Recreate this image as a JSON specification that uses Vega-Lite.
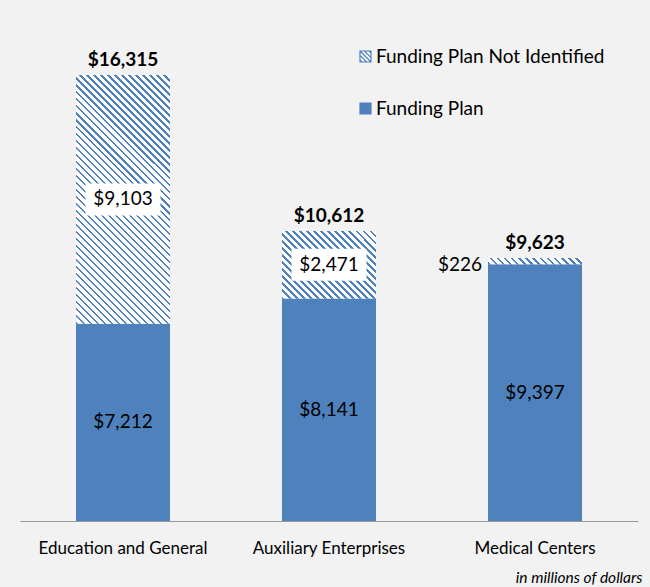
{
  "$schema": "https://vega.github.io/schema/vega-lite/v6.json",
  "width": 618,
  "height": 492,
  "autosize": {"type": "none"},
  "padding": {"left": 20, "top": 29, "right": 12, "bottom": 66},
  "background": "#f2f2f2",
  "config": {"view": {"stroke": null}, "font": "Lato"},
  "data": {
    "values": [
      {"category": "Education and General", "series": "Funding Plan", "value": 7212},
      {"category": "Education and General", "series": "Funding Plan Not Identified", "value": 9103},
      {"category": "Auxiliary Enterprises", "series": "Funding Plan", "value": 8141},
      {"category": "Auxiliary Enterprises", "series": "Funding Plan Not Identified", "value": 2471},
      {"category": "Medical Centers", "series": "Funding Plan", "value": 9397},
      {"category": "Medical Centers", "series": "Funding Plan Not Identified", "value": 226}
    ]
  },
  "encoding": {
    "x": {
      "field": "category",
      "type": "nominal",
      "sort": null,
      "scale": {"paddingInner": 0.5437, "paddingOuter": 0.2718},
      "axis": {
        "title": "in millions of dollars",
        "labelAngle": 0,
        "labelFont": "Lato",
        "labelFontSize": 17,
        "labelColor": "#000000",
        "labelPadding": 19,
        "ticks": false,
        "domainColor": "#999999",
        "domainWidth": 1,
        "titleFont": "Lato",
        "titleFontSize": 15.5,
        "titleFontStyle": "italic",
        "titleFontWeight": "normal",
        "titleColor": "#000000",
        "titleAnchor": "end",
        "titleAlign": "right",
        "titleBaseline": "alphabetic",
        "titleX": 622,
        "titleY": 61
      }
    }
  },
  "layer": [
    {
      "mark": {"type": "bar", "strokeWidth": 0},
      "encoding": {
        "y": {"field": "value", "type": "quantitative", "stack": "zero", "scale": {"domain": [0, 18000]}, "axis": null},
        "order": {"field": "series", "sort": "ascending"},
        "fill": {
          "field": "series",
          "type": "nominal",
          "scale": {"domain": ["Funding Plan Not Identified", "Funding Plan"], "range": ["#ffffff", "#4f81bd"]},
          "legend": {
            "title": null,
            "orient": "none",
            "legendX": 336,
            "legendY": 18,
            "padding": 0,
            "offset": 0,
            "symbolType": "square",
            "symbolSize": 121,
            "symbolOpacity": 1,
            "labelFont": "Lato",
            "labelFontSize": 19,
            "labelColor": "#000000",
            "labelOffset": 1,
            "labelLimit": 400,
            "rowPadding": 32,
            "encode": {
              "symbols": {
                "update": {
                  "stroke": {"value": "#4f81bd"},
                  "strokeWidth": {"value": 1.2},
                  "shape": {"value": "M-1,-1H1V1H-1ZM-1,-1L1,1M-1,-0.2L0.2,1M-1,0.6L-0.6,1M-0.2,-1L1,0.2M0.6,-1L1,-0.6"}
                }
              }
            }
          },
          "condition": [
            {
              "test": "datum.series === 'Funding Plan Not Identified' && datum.category === 'Education and General'",
              "value": {"gradient": "linear", "x1": 0, "y1": 1, "x2": 0.4555, "y2": -0.2057, "stops": [
                {"offset": 0, "color": "#4f81bd"}, {"offset": 0.0071, "color": "#4f81bd"}, {"offset": 0.0071, "color": "#ffffff"}, {"offset": 0.0204, "color": "#ffffff"},
                {"offset": 0.0204, "color": "#4f81bd"}, {"offset": 0.0276, "color": "#4f81bd"}, {"offset": 0.0276, "color": "#ffffff"}, {"offset": 0.0408, "color": "#ffffff"},
                {"offset": 0.0408, "color": "#4f81bd"}, {"offset": 0.048, "color": "#4f81bd"}, {"offset": 0.048, "color": "#ffffff"}, {"offset": 0.0612, "color": "#ffffff"},
                {"offset": 0.0612, "color": "#4f81bd"}, {"offset": 0.0684, "color": "#4f81bd"}, {"offset": 0.0684, "color": "#ffffff"}, {"offset": 0.0816, "color": "#ffffff"},
                {"offset": 0.0816, "color": "#4f81bd"}, {"offset": 0.0888, "color": "#4f81bd"}, {"offset": 0.0888, "color": "#ffffff"}, {"offset": 0.102, "color": "#ffffff"},
                {"offset": 0.102, "color": "#4f81bd"}, {"offset": 0.1092, "color": "#4f81bd"}, {"offset": 0.1092, "color": "#ffffff"}, {"offset": 0.1224, "color": "#ffffff"},
                {"offset": 0.1224, "color": "#4f81bd"}, {"offset": 0.1296, "color": "#4f81bd"}, {"offset": 0.1296, "color": "#ffffff"}, {"offset": 0.1429, "color": "#ffffff"},
                {"offset": 0.1429, "color": "#4f81bd"}, {"offset": 0.15, "color": "#4f81bd"}, {"offset": 0.15, "color": "#ffffff"}, {"offset": 0.1633, "color": "#ffffff"},
                {"offset": 0.1633, "color": "#4f81bd"}, {"offset": 0.1704, "color": "#4f81bd"}, {"offset": 0.1704, "color": "#ffffff"}, {"offset": 0.1837, "color": "#ffffff"},
                {"offset": 0.1837, "color": "#4f81bd"}, {"offset": 0.1908, "color": "#4f81bd"}, {"offset": 0.1908, "color": "#ffffff"}, {"offset": 0.2041, "color": "#ffffff"},
                {"offset": 0.2041, "color": "#4f81bd"}, {"offset": 0.2112, "color": "#4f81bd"}, {"offset": 0.2112, "color": "#ffffff"}, {"offset": 0.2245, "color": "#ffffff"},
                {"offset": 0.2245, "color": "#4f81bd"}, {"offset": 0.2316, "color": "#4f81bd"}, {"offset": 0.2316, "color": "#ffffff"}, {"offset": 0.2449, "color": "#ffffff"},
                {"offset": 0.2449, "color": "#4f81bd"}, {"offset": 0.252, "color": "#4f81bd"}, {"offset": 0.252, "color": "#ffffff"}, {"offset": 0.2653, "color": "#ffffff"},
                {"offset": 0.2653, "color": "#4f81bd"}, {"offset": 0.2724, "color": "#4f81bd"}, {"offset": 0.2724, "color": "#ffffff"}, {"offset": 0.2857, "color": "#ffffff"},
                {"offset": 0.2857, "color": "#4f81bd"}, {"offset": 0.2929, "color": "#4f81bd"}, {"offset": 0.2929, "color": "#ffffff"}, {"offset": 0.3061, "color": "#ffffff"},
                {"offset": 0.3061, "color": "#4f81bd"}, {"offset": 0.3133, "color": "#4f81bd"}, {"offset": 0.3133, "color": "#ffffff"}, {"offset": 0.3265, "color": "#ffffff"},
                {"offset": 0.3265, "color": "#4f81bd"}, {"offset": 0.3337, "color": "#4f81bd"}, {"offset": 0.3337, "color": "#ffffff"}, {"offset": 0.3469, "color": "#ffffff"},
                {"offset": 0.3469, "color": "#4f81bd"}, {"offset": 0.3541, "color": "#4f81bd"}, {"offset": 0.3541, "color": "#ffffff"}, {"offset": 0.3673, "color": "#ffffff"},
                {"offset": 0.3673, "color": "#4f81bd"}, {"offset": 0.3745, "color": "#4f81bd"}, {"offset": 0.3745, "color": "#ffffff"}, {"offset": 0.3878, "color": "#ffffff"},
                {"offset": 0.3878, "color": "#4f81bd"}, {"offset": 0.3949, "color": "#4f81bd"}, {"offset": 0.3949, "color": "#ffffff"}, {"offset": 0.4082, "color": "#ffffff"},
                {"offset": 0.4082, "color": "#4f81bd"}, {"offset": 0.4153, "color": "#4f81bd"}, {"offset": 0.4153, "color": "#ffffff"}, {"offset": 0.4286, "color": "#ffffff"},
                {"offset": 0.4286, "color": "#4f81bd"}, {"offset": 0.4357, "color": "#4f81bd"}, {"offset": 0.4357, "color": "#ffffff"}, {"offset": 0.449, "color": "#ffffff"},
                {"offset": 0.449, "color": "#4f81bd"}, {"offset": 0.4561, "color": "#4f81bd"}, {"offset": 0.4561, "color": "#ffffff"}, {"offset": 0.4694, "color": "#ffffff"},
                {"offset": 0.4694, "color": "#4f81bd"}, {"offset": 0.4765, "color": "#4f81bd"}, {"offset": 0.4765, "color": "#ffffff"}, {"offset": 0.4898, "color": "#ffffff"},
                {"offset": 0.4898, "color": "#4f81bd"}, {"offset": 0.4969, "color": "#4f81bd"}, {"offset": 0.4969, "color": "#ffffff"}, {"offset": 0.5102, "color": "#ffffff"},
                {"offset": 0.5102, "color": "#4f81bd"}, {"offset": 0.5173, "color": "#4f81bd"}, {"offset": 0.5173, "color": "#ffffff"}, {"offset": 0.5306, "color": "#ffffff"},
                {"offset": 0.5306, "color": "#4f81bd"}, {"offset": 0.5378, "color": "#4f81bd"}, {"offset": 0.5378, "color": "#ffffff"}, {"offset": 0.551, "color": "#ffffff"},
                {"offset": 0.551, "color": "#4f81bd"}, {"offset": 0.5582, "color": "#4f81bd"}, {"offset": 0.5582, "color": "#ffffff"}, {"offset": 0.5714, "color": "#ffffff"},
                {"offset": 0.5714, "color": "#4f81bd"}, {"offset": 0.5786, "color": "#4f81bd"}, {"offset": 0.5786, "color": "#ffffff"}, {"offset": 0.5918, "color": "#ffffff"},
                {"offset": 0.5918, "color": "#4f81bd"}, {"offset": 0.599, "color": "#4f81bd"}, {"offset": 0.599, "color": "#ffffff"}, {"offset": 0.6122, "color": "#ffffff"},
                {"offset": 0.6122, "color": "#4f81bd"}, {"offset": 0.6194, "color": "#4f81bd"}, {"offset": 0.6194, "color": "#ffffff"}, {"offset": 0.6327, "color": "#ffffff"},
                {"offset": 0.6327, "color": "#4f81bd"}, {"offset": 0.6398, "color": "#4f81bd"}, {"offset": 0.6398, "color": "#ffffff"}, {"offset": 0.6531, "color": "#ffffff"},
                {"offset": 0.6531, "color": "#4f81bd"}, {"offset": 0.6602, "color": "#4f81bd"}, {"offset": 0.6602, "color": "#ffffff"}, {"offset": 0.6735, "color": "#ffffff"},
                {"offset": 0.6735, "color": "#4f81bd"}, {"offset": 0.6806, "color": "#4f81bd"}, {"offset": 0.6806, "color": "#ffffff"}, {"offset": 0.6939, "color": "#ffffff"},
                {"offset": 0.6939, "color": "#4f81bd"}, {"offset": 0.701, "color": "#4f81bd"}, {"offset": 0.701, "color": "#ffffff"}, {"offset": 0.7143, "color": "#ffffff"},
                {"offset": 0.7143, "color": "#4f81bd"}, {"offset": 0.7214, "color": "#4f81bd"}, {"offset": 0.7214, "color": "#ffffff"}, {"offset": 0.7347, "color": "#ffffff"},
                {"offset": 0.7347, "color": "#4f81bd"}, {"offset": 0.7418, "color": "#4f81bd"}, {"offset": 0.7418, "color": "#ffffff"}, {"offset": 0.7551, "color": "#ffffff"},
                {"offset": 0.7551, "color": "#4f81bd"}, {"offset": 0.7622, "color": "#4f81bd"}, {"offset": 0.7622, "color": "#ffffff"}, {"offset": 0.7755, "color": "#ffffff"},
                {"offset": 0.7755, "color": "#4f81bd"}, {"offset": 0.7827, "color": "#4f81bd"}, {"offset": 0.7827, "color": "#ffffff"}, {"offset": 0.7959, "color": "#ffffff"},
                {"offset": 0.7959, "color": "#4f81bd"}, {"offset": 0.8031, "color": "#4f81bd"}, {"offset": 0.8031, "color": "#ffffff"}, {"offset": 0.8163, "color": "#ffffff"},
                {"offset": 0.8163, "color": "#4f81bd"}, {"offset": 0.8235, "color": "#4f81bd"}, {"offset": 0.8235, "color": "#ffffff"}, {"offset": 0.8367, "color": "#ffffff"},
                {"offset": 0.8367, "color": "#4f81bd"}, {"offset": 0.8439, "color": "#4f81bd"}, {"offset": 0.8439, "color": "#ffffff"}, {"offset": 0.8571, "color": "#ffffff"},
                {"offset": 0.8571, "color": "#4f81bd"}, {"offset": 0.8643, "color": "#4f81bd"}, {"offset": 0.8643, "color": "#ffffff"}, {"offset": 0.8776, "color": "#ffffff"},
                {"offset": 0.8776, "color": "#4f81bd"}, {"offset": 0.8847, "color": "#4f81bd"}, {"offset": 0.8847, "color": "#ffffff"}, {"offset": 0.898, "color": "#ffffff"},
                {"offset": 0.898, "color": "#4f81bd"}, {"offset": 0.9051, "color": "#4f81bd"}, {"offset": 0.9051, "color": "#ffffff"}, {"offset": 0.9184, "color": "#ffffff"},
                {"offset": 0.9184, "color": "#4f81bd"}, {"offset": 0.9255, "color": "#4f81bd"}, {"offset": 0.9255, "color": "#ffffff"}, {"offset": 0.9388, "color": "#ffffff"},
                {"offset": 0.9388, "color": "#4f81bd"}, {"offset": 0.9459, "color": "#4f81bd"}, {"offset": 0.9459, "color": "#ffffff"}, {"offset": 0.9592, "color": "#ffffff"},
                {"offset": 0.9592, "color": "#4f81bd"}, {"offset": 0.9663, "color": "#4f81bd"}, {"offset": 0.9663, "color": "#ffffff"}, {"offset": 0.9796, "color": "#ffffff"},
                {"offset": 0.9796, "color": "#4f81bd"}, {"offset": 0.9867, "color": "#4f81bd"}, {"offset": 0.9867, "color": "#ffffff"}, {"offset": 1, "color": "#ffffff"}
              ]}
            },
            {
              "test": "datum.series === 'Funding Plan Not Identified' && datum.category === 'Auxiliary Enterprises'",
              "value": {"gradient": "linear", "x1": 0, "y1": 1, "x2": 1.1336, "y2": 0.186, "stops": [
                {"offset": 0, "color": "#4f81bd"}, {"offset": 0.0152, "color": "#4f81bd"}, {"offset": 0.0152, "color": "#ffffff"}, {"offset": 0.0435, "color": "#ffffff"},
                {"offset": 0.0435, "color": "#4f81bd"}, {"offset": 0.0587, "color": "#4f81bd"}, {"offset": 0.0587, "color": "#ffffff"}, {"offset": 0.087, "color": "#ffffff"},
                {"offset": 0.087, "color": "#4f81bd"}, {"offset": 0.1022, "color": "#4f81bd"}, {"offset": 0.1022, "color": "#ffffff"}, {"offset": 0.1304, "color": "#ffffff"},
                {"offset": 0.1304, "color": "#4f81bd"}, {"offset": 0.1456, "color": "#4f81bd"}, {"offset": 0.1456, "color": "#ffffff"}, {"offset": 0.1739, "color": "#ffffff"},
                {"offset": 0.1739, "color": "#4f81bd"}, {"offset": 0.1891, "color": "#4f81bd"}, {"offset": 0.1891, "color": "#ffffff"}, {"offset": 0.2174, "color": "#ffffff"},
                {"offset": 0.2174, "color": "#4f81bd"}, {"offset": 0.2326, "color": "#4f81bd"}, {"offset": 0.2326, "color": "#ffffff"}, {"offset": 0.2609, "color": "#ffffff"},
                {"offset": 0.2609, "color": "#4f81bd"}, {"offset": 0.2761, "color": "#4f81bd"}, {"offset": 0.2761, "color": "#ffffff"}, {"offset": 0.3043, "color": "#ffffff"},
                {"offset": 0.3043, "color": "#4f81bd"}, {"offset": 0.3195, "color": "#4f81bd"}, {"offset": 0.3195, "color": "#ffffff"}, {"offset": 0.3478, "color": "#ffffff"},
                {"offset": 0.3478, "color": "#4f81bd"}, {"offset": 0.363, "color": "#4f81bd"}, {"offset": 0.363, "color": "#ffffff"}, {"offset": 0.3913, "color": "#ffffff"},
                {"offset": 0.3913, "color": "#4f81bd"}, {"offset": 0.4065, "color": "#4f81bd"}, {"offset": 0.4065, "color": "#ffffff"}, {"offset": 0.4348, "color": "#ffffff"},
                {"offset": 0.4348, "color": "#4f81bd"}, {"offset": 0.45, "color": "#4f81bd"}, {"offset": 0.45, "color": "#ffffff"}, {"offset": 0.4783, "color": "#ffffff"},
                {"offset": 0.4783, "color": "#4f81bd"}, {"offset": 0.4935, "color": "#4f81bd"}, {"offset": 0.4935, "color": "#ffffff"}, {"offset": 0.5217, "color": "#ffffff"},
                {"offset": 0.5217, "color": "#4f81bd"}, {"offset": 0.5369, "color": "#4f81bd"}, {"offset": 0.5369, "color": "#ffffff"}, {"offset": 0.5652, "color": "#ffffff"},
                {"offset": 0.5652, "color": "#4f81bd"}, {"offset": 0.5804, "color": "#4f81bd"}, {"offset": 0.5804, "color": "#ffffff"}, {"offset": 0.6087, "color": "#ffffff"},
                {"offset": 0.6087, "color": "#4f81bd"}, {"offset": 0.6239, "color": "#4f81bd"}, {"offset": 0.6239, "color": "#ffffff"}, {"offset": 0.6522, "color": "#ffffff"},
                {"offset": 0.6522, "color": "#4f81bd"}, {"offset": 0.6674, "color": "#4f81bd"}, {"offset": 0.6674, "color": "#ffffff"}, {"offset": 0.6957, "color": "#ffffff"},
                {"offset": 0.6957, "color": "#4f81bd"}, {"offset": 0.7109, "color": "#4f81bd"}, {"offset": 0.7109, "color": "#ffffff"}, {"offset": 0.7391, "color": "#ffffff"},
                {"offset": 0.7391, "color": "#4f81bd"}, {"offset": 0.7543, "color": "#4f81bd"}, {"offset": 0.7543, "color": "#ffffff"}, {"offset": 0.7826, "color": "#ffffff"},
                {"offset": 0.7826, "color": "#4f81bd"}, {"offset": 0.7978, "color": "#4f81bd"}, {"offset": 0.7978, "color": "#ffffff"}, {"offset": 0.8261, "color": "#ffffff"},
                {"offset": 0.8261, "color": "#4f81bd"}, {"offset": 0.8413, "color": "#4f81bd"}, {"offset": 0.8413, "color": "#ffffff"}, {"offset": 0.8696, "color": "#ffffff"},
                {"offset": 0.8696, "color": "#4f81bd"}, {"offset": 0.8848, "color": "#4f81bd"}, {"offset": 0.8848, "color": "#ffffff"}, {"offset": 0.913, "color": "#ffffff"},
                {"offset": 0.913, "color": "#4f81bd"}, {"offset": 0.9282, "color": "#4f81bd"}, {"offset": 0.9282, "color": "#ffffff"}, {"offset": 0.9565, "color": "#ffffff"},
                {"offset": 0.9565, "color": "#4f81bd"}, {"offset": 0.9717, "color": "#4f81bd"}, {"offset": 0.9717, "color": "#ffffff"}, {"offset": 1, "color": "#ffffff"}
              ]}
            },
            {
              "test": "datum.series === 'Funding Plan Not Identified' && datum.category === 'Medical Centers'",
              "value": {"gradient": "linear", "x1": 0, "y1": 1, "x2": 1.0612, "y2": 0.9302, "stops": [
                {"offset": 0, "color": "#4f81bd"}, {"offset": 0.025, "color": "#4f81bd"}, {"offset": 0.025, "color": "#ffffff"}, {"offset": 0.0714, "color": "#ffffff"},
                {"offset": 0.0714, "color": "#4f81bd"}, {"offset": 0.0964, "color": "#4f81bd"}, {"offset": 0.0964, "color": "#ffffff"}, {"offset": 0.1429, "color": "#ffffff"},
                {"offset": 0.1429, "color": "#4f81bd"}, {"offset": 0.1679, "color": "#4f81bd"}, {"offset": 0.1679, "color": "#ffffff"}, {"offset": 0.2143, "color": "#ffffff"},
                {"offset": 0.2143, "color": "#4f81bd"}, {"offset": 0.2393, "color": "#4f81bd"}, {"offset": 0.2393, "color": "#ffffff"}, {"offset": 0.2857, "color": "#ffffff"},
                {"offset": 0.2857, "color": "#4f81bd"}, {"offset": 0.3107, "color": "#4f81bd"}, {"offset": 0.3107, "color": "#ffffff"}, {"offset": 0.3571, "color": "#ffffff"},
                {"offset": 0.3571, "color": "#4f81bd"}, {"offset": 0.3821, "color": "#4f81bd"}, {"offset": 0.3821, "color": "#ffffff"}, {"offset": 0.4286, "color": "#ffffff"},
                {"offset": 0.4286, "color": "#4f81bd"}, {"offset": 0.4536, "color": "#4f81bd"}, {"offset": 0.4536, "color": "#ffffff"}, {"offset": 0.5, "color": "#ffffff"},
                {"offset": 0.5, "color": "#4f81bd"}, {"offset": 0.525, "color": "#4f81bd"}, {"offset": 0.525, "color": "#ffffff"}, {"offset": 0.5714, "color": "#ffffff"},
                {"offset": 0.5714, "color": "#4f81bd"}, {"offset": 0.5964, "color": "#4f81bd"}, {"offset": 0.5964, "color": "#ffffff"}, {"offset": 0.6429, "color": "#ffffff"},
                {"offset": 0.6429, "color": "#4f81bd"}, {"offset": 0.6679, "color": "#4f81bd"}, {"offset": 0.6679, "color": "#ffffff"}, {"offset": 0.7143, "color": "#ffffff"},
                {"offset": 0.7143, "color": "#4f81bd"}, {"offset": 0.7393, "color": "#4f81bd"}, {"offset": 0.7393, "color": "#ffffff"}, {"offset": 0.7857, "color": "#ffffff"},
                {"offset": 0.7857, "color": "#4f81bd"}, {"offset": 0.8107, "color": "#4f81bd"}, {"offset": 0.8107, "color": "#ffffff"}, {"offset": 0.8571, "color": "#ffffff"},
                {"offset": 0.8571, "color": "#4f81bd"}, {"offset": 0.8821, "color": "#4f81bd"}, {"offset": 0.8821, "color": "#ffffff"}, {"offset": 0.9286, "color": "#ffffff"},
                {"offset": 0.9286, "color": "#4f81bd"}, {"offset": 0.9536, "color": "#4f81bd"}, {"offset": 0.9536, "color": "#ffffff"}, {"offset": 1, "color": "#ffffff"}
              ]}
            }
          ]
        }
      }
    },
    {
      "mark": {"type": "point", "shape": "M-1,-0.427H1V0.427H-1Z", "filled": true, "fill": "#ffffff", "strokeWidth": 0, "size": 5625},
      "encoding": {
        "y": {"field": "value", "type": "quantitative", "stack": "zero", "bandPosition": 0.5},
        "detail": {"field": "series"},
        "order": {"field": "series", "sort": "ascending"},
        "opacity": {"condition": {"test": "datum.series === 'Funding Plan Not Identified' && datum.value > 1000", "value": 1}, "value": 0}
      }
    },
    {
      "mark": {"type": "text", "font": "Lato", "fontSize": 19, "color": "#000000", "baseline": "middle", "align": "center"},
      "encoding": {
        "y": {"field": "value", "type": "quantitative", "stack": "zero", "bandPosition": 0.5},
        "detail": {"field": "series"},
        "order": {"field": "series", "sort": "ascending"},
        "text": {"field": "value", "type": "quantitative", "format": "$,d"},
        "opacity": {"condition": {"test": "datum.value > 1000", "value": 1}, "value": 0}
      }
    },
    {
      "mark": {"type": "text", "font": "Lato", "fontSize": 19, "color": "#000000", "baseline": "middle", "align": "right", "dx": -53, "dy": 4},
      "encoding": {
        "y": {"field": "value", "type": "quantitative", "stack": "zero", "bandPosition": 0.5},
        "detail": {"field": "series"},
        "order": {"field": "series", "sort": "ascending"},
        "text": {"field": "value", "type": "quantitative", "format": "$,d"},
        "opacity": {"condition": {"test": "datum.value < 1000", "value": 1}, "value": 0}
      }
    },
    {
      "mark": {"type": "text", "font": "Lato", "fontSize": 19, "fontWeight": "bold", "color": "#000000", "baseline": "alphabetic", "align": "center", "dy": -9},
      "encoding": {
        "y": {"aggregate": "sum", "field": "value", "type": "quantitative"},
        "text": {"aggregate": "sum", "field": "value", "type": "quantitative", "format": "$,d"}
      }
    }
  ]
}
